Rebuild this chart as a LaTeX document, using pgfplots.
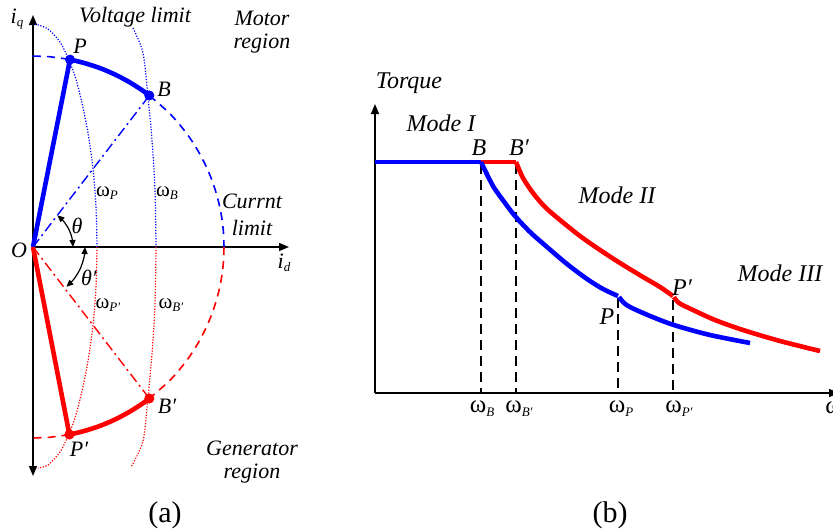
\documentclass[border=0pt]{standalone}
\usepackage{fontspec}
\setmainfont{Liberation Serif}
\usepackage{pgfplots}
\pgfplotsset{compat=1.18}
\usetikzlibrary{arrows.meta}
\definecolor{cb}{RGB}{0,0,255}
\definecolor{cr}{RGB}{255,0,0}
\newcommand{\sub}[1]{\raisebox{-0.35ex}{\fontsize{6.5}{7}\selectfont\textit{#1}}}
\newcommand{\w}[1]{ω\sub{#1}}
\tikzset{
  la/.style={font=\fontsize{11}{12}\selectfont\itshape,inner sep=0pt},
  lb/.style={font=\fontsize{12}{13}\selectfont\itshape,inner sep=0pt},
  lw/.style={font=\fontsize{10.5}{12}\selectfont,inner sep=0pt},
  lwb/.style={font=\fontsize{12.5}{13}\selectfont,inner sep=0pt},
  figcap/.style={font=\fontsize{15}{16}\selectfont,inner sep=0pt},
  ax/.style={black,line width=0.7pt,-{Triangle[length=5pt,width=4pt]}},
  dsh/.style={line width=0.8pt,dash pattern=on 4pt off 3pt},
  vdot/.style={line width=0.6pt,dash pattern=on 0.6pt off 0.8pt,smooth},
  dd/.style={line width=0.7pt,dash pattern=on 5pt off 2pt on 1pt off 2pt},
  thk/.style={line width=2.3pt},
  ang/.style={black,line width=0.6pt,smooth,{Triangle[length=3.5pt,width=3pt]}-{Triangle[length=3.5pt,width=3pt]}},
}
\begin{document}
\begin{tikzpicture}
\useasboundingbox (0,0) rectangle (416.5pt,265pt);
\begin{axis}[at={(0,0)},anchor=south west,width=416.5pt,height=265pt,scale only axis,
  xmin=0,xmax=833,ymin=0,ymax=530,y dir=reverse,axis lines=none,clip=false]
% ===== panel (a) =====
\addplot[ax] coordinates {(33,247) (289,247)};
\addplot[ax] coordinates {(33,247) (33,15)};
\addplot[ax] coordinates {(33,247) (33,476)};
% voltage limits
\addplot[cb,vdot] coordinates {(35,24)(48,29)(60,42)(68,58)(75,76)(82,103)(88,133)(93,169)(96,207)(97,247)};
\addplot[cr,vdot] coordinates {(97,247)(96,287)(93,325)(88,361)(82,391)(75,418)(68,436)(60,452)(48,465)(38,468)};
\addplot[cb,vdot] coordinates {(133,28)(143,53)(148,97)(152,140)(155,190)(156,247)};
\addplot[cr,vdot] coordinates {(156,247)(155,304)(152,354)(148,397)(143,441)(131,467)};
% current limit
\addplot[cb,dsh] coordinates {(33,56)(49.7,56.7)(66.2,58.9)(70,59.6)};
\addplot[cb,dsh,smooth] coordinates {(149.3,95.5)(168.1,111.9)(179.3,124.2)(189.5,137.4)(198.4,151.5)(206.1,166.3)(212.5,181.7)(217.5,197.6)(221.1,213.8)(223.3,230.3)(224,247)};
\addplot[cr,dsh,smooth] coordinates {(224,247)(223.3,263.7)(221.1,280.2)(217.5,296.4)(212.5,312.3)(206.1,327.7)(198.4,342.5)(189.5,356.6)(179.3,369.8)(168.1,382.1)(149.3,398.5)};
\addplot[cr,dsh] coordinates {(69.4,434.5)(66.2,435.1)(49.7,437.3)(33,438)};
% dash-dot
\addplot[cb,dd] coordinates {(33,247)(149,96)};
\addplot[cr,dd] coordinates {(33,247)(149,398)};
% thick
\addplot[cb,thk,smooth] coordinates {(70,59.6)(82.4,62.5)(98.3,67.5)(113.7,73.9)(128.5,81.6)(142.6,90.5)(149.3,95.5)};
\addplot[cr,thk,smooth] coordinates {(149.3,398.5)(142.6,403.5)(128.5,412.4)(113.7,420.1)(98.3,426.5)(82.4,431.5)(69.4,434.5)};
\addplot[cb,thk] coordinates {(33,247)(70,59.6)};
\addplot[cr,thk] coordinates {(33,247)(69.4,434.5)};
\addplot[cb,only marks,mark=*,mark size=2.3pt] coordinates {(70,59.6)(149.3,95.5)};
\addplot[cr,only marks,mark=*,mark size=2.3pt] coordinates {(149.3,398.5)(69.4,434.5)};
% angles
\addplot[ang] coordinates {(57.3,215.3)(63.6,221.3)(69.0,229.5)(72.0,238.0)(73,247)};
\addplot[ang] coordinates {(85,247)(83.9,257.8)(80.1,269.0)(74.0,279.0)(66.4,286.8)};
% labels (a)
\node[la] at (axis cs:17,19) {\textit{i}\sub{q}};
\node[la] at (axis cs:135,17) {Voltage limit};
\node[la] at (axis cs:262,18) {Motor};
\node[la] at (axis cs:262,44) {region};
\node[la] at (axis cs:80,46) {P};
\node[la] at (axis cs:164,89) {B};
\node[lw] at (axis cs:107,193) {\w{P}};
\node[lw] at (axis cs:167,193) {\w{B}};
\node[la] at (axis cs:252,201) {Currnt};
\node[la] at (axis cs:252,228) {limit};
\node[la] at (axis cs:19,250) {O};
\node[la] at (axis cs:77,226) {θ};
\node[la] at (axis cs:89,278) {θ′};
\node[la] at (axis cs:284,263) {\textit{i}\sub{d}};
\node[lw] at (axis cs:108,305) {\w{P′}};
\node[lw] at (axis cs:171,305) {\w{B′}};
\node[la] at (axis cs:167,406) {B′};
\node[la] at (axis cs:79,449) {P′};
\node[la] at (axis cs:252,448) {Generator};
\node[la] at (axis cs:252,474) {region};
\node[figcap] at (axis cs:165,515) {(a)};
% ===== panel (b) =====
\addplot[ax] coordinates {(375,393)(375,104)};
\addplot[ax] coordinates {(375,393)(839,393)};
\addplot[black,line width=0.6pt,dash pattern=on 5pt off 3pt] coordinates {(481,164)(481,393)};
\addplot[black,line width=0.6pt,dash pattern=on 5pt off 3pt] coordinates {(516,164)(516,393)};
\addplot[black,line width=0.6pt,dash pattern=on 5pt off 3pt] coordinates {(618,298)(618,393)};
\addplot[black,line width=0.6pt,dash pattern=on 5pt off 3pt] coordinates {(673,300)(673,393)};
\addplot[cb,thk] coordinates {(375,162)(481,162)};
\addplot[cr,thk] coordinates {(481,162)(516,162)};
\addplot[cb,thk,smooth] coordinates {(481,162)(493,186)(505,203)(515,216)(530,232)(547,247)(567,264)(587,279)(603,289)(618,296)};
\addplot[cb,thk,smooth] coordinates {(619,297)(624,303)(630,307)(643,313)(660,320)(677,326)(710,335)(750,343)};
\addplot[cr,thk,smooth] coordinates {(516,162)(523,178)(533,193)(545,207)(560,220)(580,236)(600,250)(620,263)(643,277)(660,287)(673,296)};
\addplot[cr,thk,smooth] coordinates {(674,297)(679,303)(693,310)(715,320)(743,330)(780,341)(820,351)};
% labels (b)
\node[lb] at (axis cs:409,83) {Torque};
\node[lb] at (axis cs:441,123) {Mode I};
\node[lb] at (axis cs:479,148) {B};
\node[lb] at (axis cs:519,148) {B′};
\node[lb] at (axis cs:617,195) {Mode II};
\node[lb] at (axis cs:780,273) {Mode III};
\node[lb] at (axis cs:607,317) {P};
\node[lb] at (axis cs:682,288) {P′};
\node[lwb] at (axis cs:482,409) {\w{B}};
\node[lwb] at (axis cs:519,409) {\w{B′}};
\node[lwb] at (axis cs:621,409) {\w{P}};
\node[lwb] at (axis cs:679,409) {\w{P′}};
\node[lwb,anchor=west] at (axis cs:825,408) {ω};
\node[figcap] at (axis cs:610,515) {(b)};
\end{axis}
\end{tikzpicture}
\end{document}
